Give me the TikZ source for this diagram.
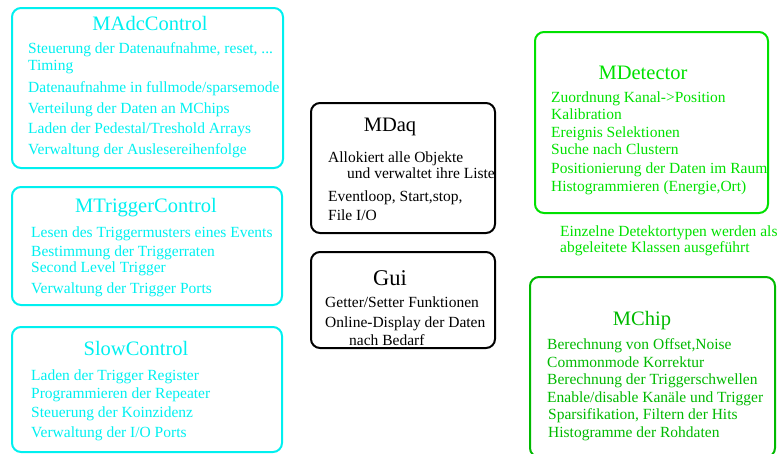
\documentclass[tikz,border=0pt]{standalone}
\usepackage{fontspec}
\setmainfont{Liberation Serif}
\definecolor{cyanline}{RGB}{0,240,240}
\definecolor{detgreen}{RGB}{0,225,0}
\definecolor{chipgreen}{RGB}{0,185,0}
\tikzset{
  box/.style={draw, line width=2pt, rounded corners=9pt, inner sep=0pt},
  title/.style={anchor=base, inner sep=0pt, font=\fontsize{20.5}{22}\selectfont},
  line/.style={anchor=base west, inner sep=0pt, font=\fontsize{15.5}{17}\selectfont},
}
\begin{document}
\begin{tikzpicture}[x=1pt, y=-1pt]
\useasboundingbox (0,0) rectangle (777,453);

% ---- left column: control classes ----
\begin{scope}[every node/.append style={color=cyanline}]
\node[box, minimum width=271pt, minimum height=160pt] (madc) at (147.5,88) {};
\node[title] (madct) at (150,30) {MAdcControl};
\node[line] (madc1) at (28,53) {Steuerung der Datenaufnahme, reset, ...};
\node[line] (madc2) at (28,70) {Timing};
\node[line] (madc3) at (28,92) {Datenaufnahme in fullmode/sparsemode};
\node[line] (madc4) at (28,113) {Verteilung der Daten an MChips};
\node[line] (madc5) at (28,133) {Laden der Pedestal/Treshold Arrays};
\node[line] (madc6) at (28,154) {Verwaltung der Auslesereihenfolge};

\node[box, minimum width=270pt, minimum height=118pt] (mtrig) at (147,246) {};
\node[title] (mtrigt) at (146,212) {MTriggerControl};
\node[line] (mtrig1) at (31,237) {Lesen des Triggermusters eines Events};
\node[line] (mtrig2) at (31,256) {Bestimmung der Triggerraten};
\node[line] (mtrig3) at (31,272) {Second Level Trigger};
\node[line] (mtrig4) at (31,293) {Verwaltung der Trigger Ports};

\node[box, minimum width=270pt, minimum height=125pt] (slow) at (147,389.5) {};
\node[title] (slowt) at (136,355) {SlowControl};
\node[line] (slow1) at (31,380) {Laden der Trigger Register};
\node[line] (slow2) at (31,398) {Programmieren der Repeater};
\node[line] (slow3) at (31,417) {Steuerung der Koinzidenz};
\node[line] (slow4) at (31,437) {Verwaltung der I/O Ports};
\end{scope}

% ---- middle column: MDaq and Gui ----
\node[box, minimum width=184pt, minimum height=130pt] (mdaq) at (403,168) {};
\node[title] (mdaqt) at (390,131) {MDaq};
\node[line] (mdaq1) at (328,162) {Allokiert alle Objekte};
\node[line] (mdaq2) at (347,178) {und verwaltet ihre Liste};
\node[line] (mdaq3) at (328,201) {Eventloop, Start,stop,};
\node[line] (mdaq4) at (328,220) {File I/O};

\node[box, minimum width=184pt, minimum height=96pt] (gui) at (403,300) {};
\node[title, font=\fontsize{22.5}{24}\selectfont] (guit) at (390,285) {Gui};
\node[line] (gui1) at (325,307) {Getter/Setter Funktionen};
\node[line] (gui2) at (325,327) {Online-Display der Daten};
\node[line] (gui3) at (349,345) {nach Bedarf};

% ---- right column: detector and chip ----
\begin{scope}[every node/.append style={color=detgreen}]
\node[box, minimum width=233pt, minimum height=181pt] (mdet) at (651.5,122.5) {};
\node[title] (mdett) at (643,79) {MDetector};
\node[line] (mdet1) at (551,102) {Zuordnung Kanal->Position};
\node[line] (mdet2) at (551,119) {Kalibration};
\node[line] (mdet3) at (551,137) {Ereignis Selektionen};
\node[line] (mdet4) at (551,154) {Suche nach Clustern};
\node[line] (mdet5) at (551,173) {Positionierung der Daten im Raum};
\node[line] (mdet6) at (551,191) {Histogrammieren (Energie,Ort)};
\node[line] (note1) at (560,236) {Einzelne Detektortypen werden als};
\node[line] (note2) at (560,252) {abgeleitete Klassen ausgeführt};
\end{scope}

\begin{scope}[every node/.append style={color=chipgreen}]
\node[box, minimum width=245pt, minimum height=180pt] (mchip) at (652.5,367) {};
\node[title] (mchipt) at (642,325) {MChip};
\node[line] (mchip1) at (547,349) {Berechnung von Offset,Noise};
\node[line] (mchip2) at (547,367) {Commonmode Korrektur};
\node[line] (mchip3) at (547,384) {Berechnung der Triggerschwellen};
\node[line] (mchip4) at (547,402) {Enable/disable Kanäle und Trigger};
\node[line] (mchip5) at (548,419) {Sparsifikation, Filtern der Hits};
\node[line] (mchip6) at (548,437) {Histogramme der Rohdaten};
\end{scope}
\end{tikzpicture}
\end{document}
